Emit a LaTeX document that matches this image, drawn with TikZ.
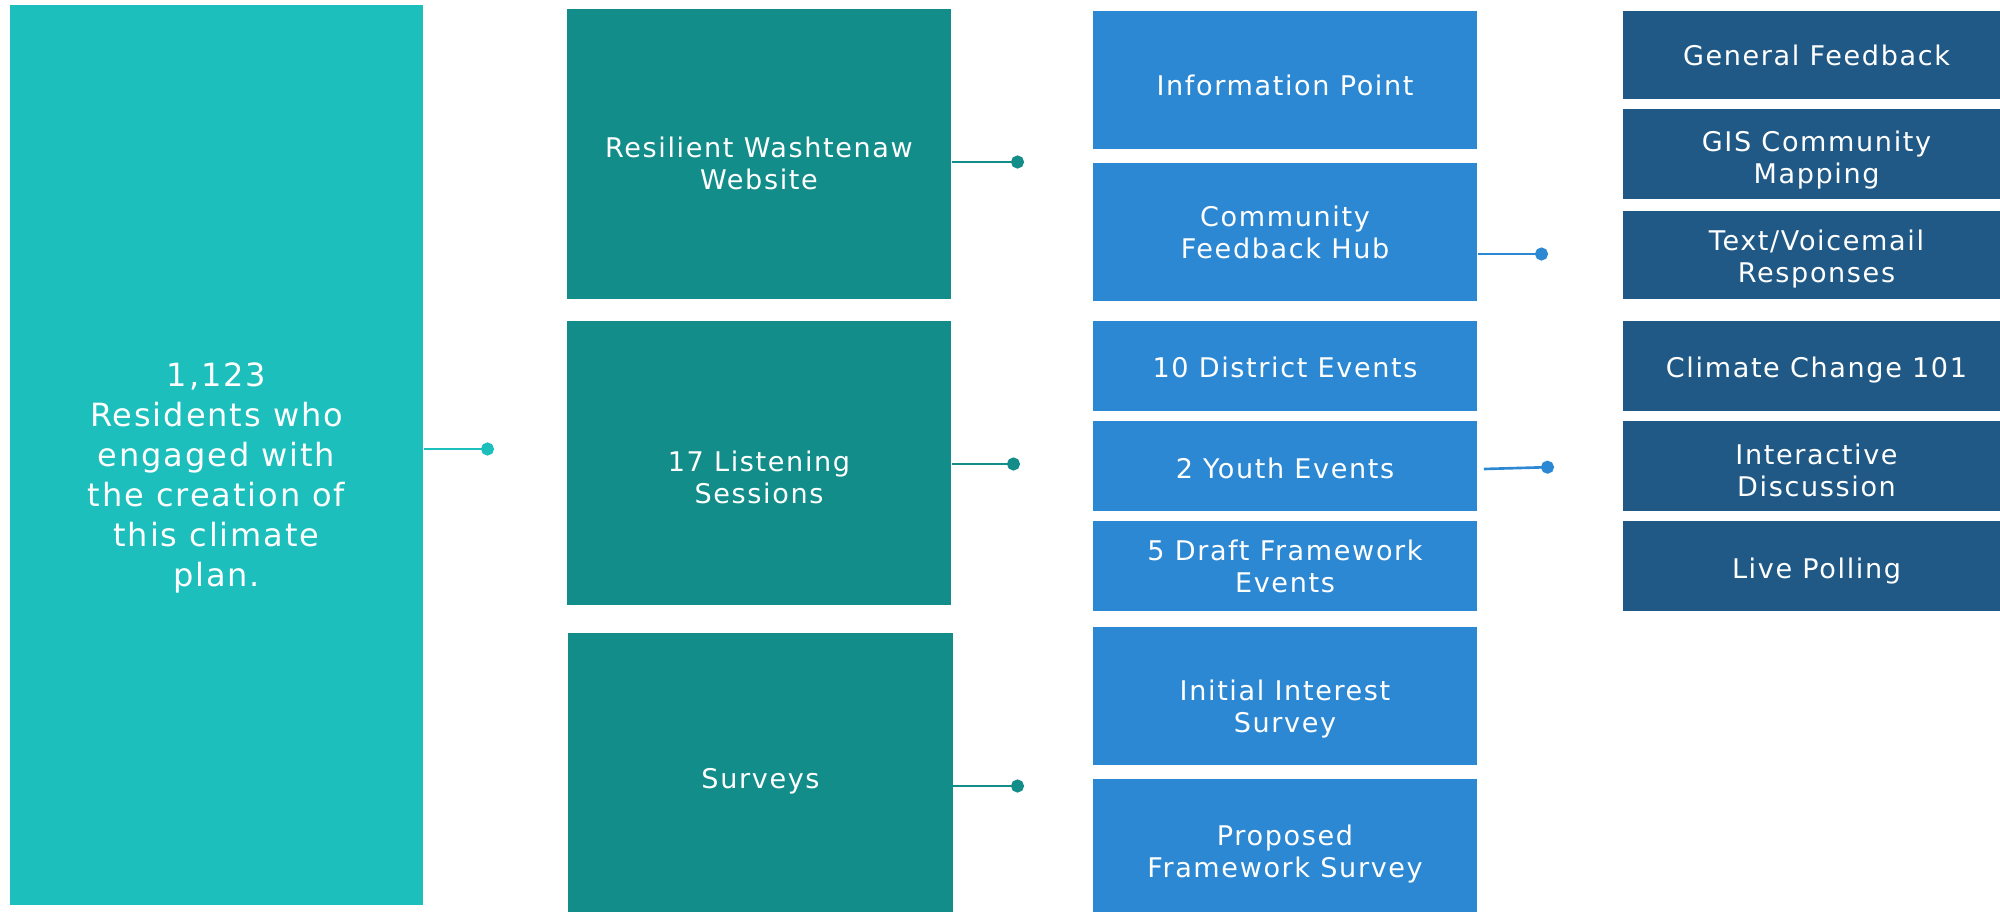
\documentclass[tikz,border=0pt]{standalone}
\usepackage{fontspec}
\setmainfont{DejaVu Sans}[LetterSpace=6]
\usetikzlibrary{arrows.meta}
\definecolor{aquaC}{RGB}{28,191,188}
\definecolor{tealC}{RGB}{19,141,138}
\definecolor{blueC}{RGB}{44,136,210}
\definecolor{navyC}{RGB}{32,89,133}
\tikzset{
  cellbox/.style={rectangle, inner sep=0pt},
  celltext/.style={inner sep=0pt, text=white, align=center, font=\fontsize{7.7}{9.1}\selectfont},
  bigtext/.style={celltext, font=\fontsize{9.1}{11.4}\selectfont},
  link/.style={line width=0.75pt, draw=#1, -{Circle[length=0.13cm,width=0.13cm,fill=#1]}}
}
% name, x, y, width, height, colour, text shift, text
\def\cell(#1,#2,#3,#4,#5,#6,#7,#8){
  \node[cellbox, fill=#6, minimum width=#4, minimum height=#5,
        label={[celltext, yshift=#7]center:#8}] (#1) at (#2,#3) {};
}

\begin{document}
\begin{tikzpicture}[x=0.01cm, y=-0.01cm]
\useasboundingbox (0,0) rectangle (2000,912);
% first column
\node[cellbox, fill=aquaC, minimum width=4.13cm, minimum height=9cm,
      label={[bigtext, yshift=-0.23cm]center:1,123\\Residents who\\engaged with\\the creation of\\this climate\\plan.}] (res) at (216.5,455) {};
% second column
\cell(web,759,154,3.84cm,2.90cm,tealC,-0.09cm,Resilient Washtenaw\\Website)
\cell(listen,759,463,3.84cm,2.84cm,tealC,-0.14cm,17 Listening\\Sessions)
\cell(surveys,760.5,772.5,3.84cm,2.79cm,tealC,-0.09cm,Surveys)
% third column
\cell(info,1285,80,3.84cm,1.38cm,blueC,-0.05cm,Information Point)
\cell(hub,1285,232,3.84cm,1.38cm,blueC,0cm,Community\\Feedback Hub)
\cell(district,1285,366,3.84cm,0.90cm,blueC,-0.01cm,10 District Events)
\cell(youth,1285,466,3.84cm,0.90cm,blueC,-0.02cm,2 Youth Events)
\cell(draft,1285,566,3.84cm,0.90cm,blueC,0cm,5 Draft Framework\\Events)
\cell(initial,1285,696,3.84cm,1.38cm,blueC,-0.13cm,Initial Interest\\Survey)
\cell(proposed,1285,845.5,3.84cm,1.33cm,blueC,-0.09cm,Proposed\\Framework Survey)
% fourth column (runs past the right edge)
\cell(general,1816.5,55,3.87cm,0.88cm,navyC,0cm,General Feedback)
\cell(gis,1816.5,154,3.87cm,0.90cm,navyC,-0.06cm,GIS Community\\Mapping)
\cell(voice,1816.5,255,3.87cm,0.88cm,navyC,-0.04cm,Text/Voicemail\\Responses)
\cell(climate,1816.5,366,3.87cm,0.90cm,navyC,-0.04cm,Climate Change 101)
\cell(discuss,1816.5,466,3.87cm,0.90cm,navyC,-0.04cm,Interactive\\Discussion)
\cell(polling,1816.5,566,3.87cm,0.90cm,navyC,-0.05cm,Live Polling)
% connectors
\coordinate (resend) at (494,449);
\coordinate (webend) at (1024,162);
\coordinate (listenend) at (1020,464);
\coordinate (surveysend) at (1024,786);
\coordinate (hubend) at (1548,254);
\coordinate (youthend) at (1554,467);
\draw[link=aquaC] (res.east |- resend) -- (resend);
\draw[link=tealC] (web.east |- webend) -- (webend);
\draw[link=tealC] (listen.east |- listenend) -- (listenend);
\draw[link=tealC] (surveys.east |- surveysend) -- (surveysend);
\draw[link=blueC] (hub.east |- hubend) -- (hubend);
\draw[link=blueC] ([shift={(6,3)}]youth.east) -- (youthend);
\end{tikzpicture}
\end{document}
